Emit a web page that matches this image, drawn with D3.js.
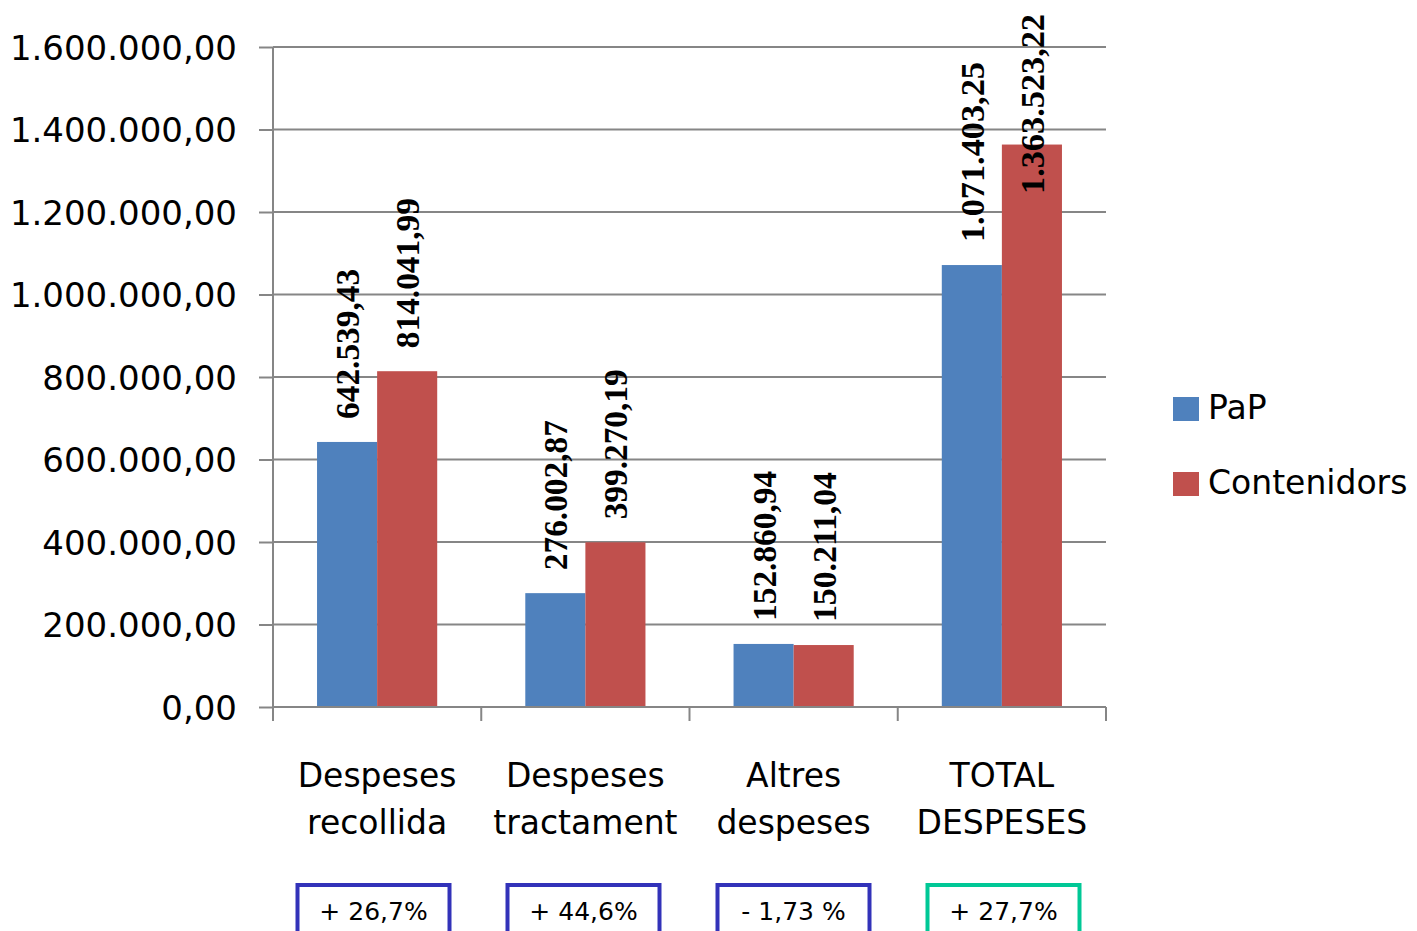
<!DOCTYPE html>
<html>
<head>
<meta charset="utf-8">
<script src="https://cdn.jsdelivr.net/npm/d3@7/dist/d3.min.js"></script>
<style>
  html, body { margin: 0; padding: 0; background: #fff; }
  svg { display: block; }
</style>
</head>
<body>
<div id="chart"></div>
<script>
// ---------- data ----------
const categories = [["Despeses", "recollida"], ["Despeses", "tractament"], ["Altres", "despeses"], ["TOTAL", "DESPESES"]];
const seriesNames = ["PaP", "Contenidors"];
const pap = [642539.43, 276002.87, 152860.94, 1071403.25];
const contenidors = [814041.99, 399270.19, 150211.04, 1363523.22];
const yTicks = [0, 200000, 400000, 600000, 800000, 1000000, 1200000, 1400000, 1600000];
const changes = ["+ 26,7%", "+ 44,6%", "- 1,73 %", "+ 27,7%"];
const changeColors = ["#3232b9", "#3232b9", "#3232b9", "#00c896"];
const colors = ["#4f81bd", "#c0504d"];

const W = 1417, H = 931;
const m = { left: 273, right: 311, top: 47, bottom: 224 };

const svg = d3.select("#chart").append("svg").attr("width", W).attr("height", H);

const x0 = d3.scaleBand().domain(d3.range(categories.length)).range([m.left, W - m.right]);
const x1 = d3.scaleBand().domain([0, 1]).range([0, x0.bandwidth()]).paddingOuter(0.733).paddingInner(0);
const y = d3.scaleLinear().domain([0, 1600000]).range([H - m.bottom, m.top]);
// the boxes under the chart sit on a slightly wider pitch than the groups
const xBox = d3.scaleBand().domain(d3.range(changes.length)).range([268.5, 1108.5]);

// es-ES style numbers: 1.600.000,00
const fmt = v => {
  const [i, d] = v.toFixed(2).split(".");
  return i.replace(/\B(?=(\d{3})+(?!\d))/g, ".") + "," + d;
};

// gridlines
svg.append("g")
  .selectAll("line")
  .data(yTicks.slice(1))
  .join("line")
  .attr("x1", m.left).attr("x2", W - m.right)
  .attr("y1", d => y(d)).attr("y2", d => y(d))
  .attr("stroke", "#868686").attr("stroke-width", 2);

// y axis
const yAxis = svg.append("g")
  .attr("transform", `translate(${m.left},0)`)
  .call(d3.axisLeft(y).tickValues(yTicks).tickSize(14).tickPadding(22).tickFormat(fmt));
yAxis.selectAll("path, line").attr("stroke", "#868686").attr("stroke-width", 2);
yAxis.select(".domain").attr("d", `M0,${y(1600000)}V${y(0)}`);
yAxis.selectAll("text")
  .attr("font-family", "DejaVu Sans, Verdana, sans-serif")
  .attr("font-size", 34).attr("fill", "#000").attr("dy", "0.36em");

// bars
const data = [pap, contenidors];
const groups = svg.append("g").selectAll("g")
  .data(categories.map((c, i) => i))
  .join("g")
  .attr("transform", i => `translate(${x0(i)},0)`);

groups.selectAll("rect")
  .data(i => data.map((s, k) => ({ k, v: s[i] })))
  .join("rect")
  .attr("x", d => x1(d.k))
  .attr("width", x1.bandwidth())
  .attr("y", d => y(d.v))
  .attr("height", d => y(0) - y(d.v))
  .attr("fill", d => colors[d.k]);

// x axis
svg.append("line")
  .attr("x1", m.left).attr("x2", W - m.right)
  .attr("y1", y(0)).attr("y2", y(0))
  .attr("stroke", "#868686").attr("stroke-width", 2);
svg.append("g").selectAll("line")
  .data(d3.range(categories.length + 1))
  .join("line")
  .attr("x1", i => m.left + i * x0.bandwidth())
  .attr("x2", i => m.left + i * x0.bandwidth())
  .attr("y1", y(0)).attr("y2", y(0) + 14)
  .attr("stroke", "#868686").attr("stroke-width", 2);

// value labels (rotated)
groups.selectAll("text.val")
  .data(i => data.map((s, k) => ({ k, v: s[i] })))
  .join("text")
  .attr("class", "val")
  .text(d => fmt(d.v))
  .attr("font-family", "Liberation Serif, DejaVu Serif, serif")
  .attr("font-weight", "bold")
  .attr("font-size", 33)
  .attr("textLength", d => fmt(d.v).length * 15)
  .attr("lengthAdjust", "spacingAndGlyphs")
  .attr("transform", function (d) {
    const len = fmt(d.v).length * 15;
    const start = Math.max(y(d.v) - 23, 14 + len);
    return `translate(${x1(d.k) + x1.bandwidth() / 2 + 12},${start}) rotate(-90)`;
  });

// category labels
groups.append("text")
  .attr("x", x0.bandwidth() / 2)
  .attr("text-anchor", "middle")
  .attr("font-family", "DejaVu Sans, Verdana, sans-serif")
  .attr("font-size", 33)
  .attr("fill", "#000")
  .selectAll("tspan")
  .data(i => categories[i])
  .join("tspan")
  .attr("x", x0.bandwidth() / 2)
  .attr("y", (d, j) => 787 + j * 47)
  .text(d => d);

// change boxes
const boxW = 152;
const boxes = svg.append("g").selectAll("g")
  .data(changes.map((c, i) => i))
  .join("g")
  .attr("transform", i => `translate(${xBox(i) + xBox.bandwidth() / 2 - boxW / 2},885)`);
boxes.append("rect")
  .attr("width", boxW).attr("height", 70)
  .attr("fill", "#fff")
  .attr("stroke", i => changeColors[i]).attr("stroke-width", 4);
boxes.append("text")
  .attr("x", boxW / 2).attr("y", 35)
  .attr("text-anchor", "middle")
  .attr("font-family", "DejaVu Sans, Verdana, sans-serif")
  .attr("font-size", 25)
  .attr("fill", "#000")
  .text(i => changes[i]);

// legend
const legend = svg.append("g").attr("transform", "translate(1173,397)");
const li = legend.selectAll("g")
  .data(seriesNames)
  .join("g")
  .attr("transform", (d, i) => `translate(0,${i * 75})`);
li.append("rect").attr("width", 26).attr("height", 24).attr("fill", (d, i) => colors[i]);
li.append("text")
  .attr("x", 35).attr("y", 22)
  .attr("font-family", "DejaVu Sans, Verdana, sans-serif")
  .attr("font-size", 33)
  .attr("fill", "#000")
  .text(d => d);
</script>
</body>
</html>
